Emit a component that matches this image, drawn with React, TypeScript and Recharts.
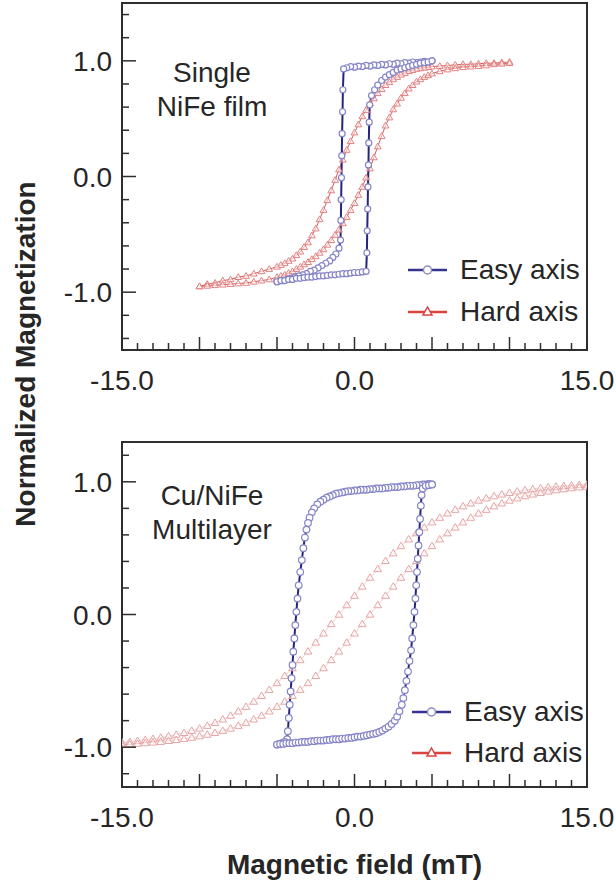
import React from "react";
import { ComposedChart, Line, XAxis, YAxis, ReferenceArea, Legend } from "recharts";

type Pair = [number, number];

// axis ticks
const FIELD_TICKS = [-15, -14, -13, -12, -11, -10, -9, -8, -7, -6, -5, -4, -3, -2, -1, 0, 1, 2, 3, 4, 5, 6, 7, 8, 9, 10, 11, 12, 13, 14, 15];
const FIELD_LABELS = [-15, 0, 15];
const TOP_M_TICKS = [-1.4, -1.2, -1, -0.8, -0.6, -0.4, -0.2, 0, 0.2, 0.4, 0.6, 0.8, 1, 1.2, 1.4];
const BOTTOM_M_TICKS = [-1.2, -1, -0.8, -0.6, -0.4, -0.2, 0, 0.2, 0.4, 0.6, 0.8, 1, 1.2];
const M_LABELS = [-1, 0, 1];

// single NiFe film, easy axis: field (mT), normalized M
const TOP_EASY_DESC: Pair[] = [
  [5, 1.0], [4.75, 0.99], [4.5, 0.995], [4.25, 0.99], [4, 0.985], [3.75, 0.99], [3.5, 0.98], [3.25, 0.985],
  [3, 0.975], [2.75, 0.98], [2.5, 0.97], [2.25, 0.975], [2, 0.965], [1.75, 0.97], [1.5, 0.96], [1.25, 0.965],
  [1, 0.955], [0.75, 0.96], [0.5, 0.95], [0.25, 0.955], [0, 0.945], [-0.25, 0.95], [-0.5, 0.94], [-0.7, 0.93],
  [-0.75, 0.75], [-0.77, 0.56], [-0.8, 0.37], [-0.82, 0.18], [-0.84, -0.01], [-0.86, -0.2], [-0.88, -0.38], [-0.9, -0.55],
  [-1.0, -0.62], [-1.2, -0.67], [-1.4, -0.7], [-1.6, -0.73], [-1.85, -0.75], [-2.1, -0.77], [-2.35, -0.79], [-2.6, -0.81],
  [-2.85, -0.82], [-3.1, -0.84], [-3.35, -0.85], [-3.6, -0.86], [-3.85, -0.87], [-4.1, -0.88], [-4.35, -0.89], [-4.6, -0.9],
  [-4.8, -0.9], [-5, -0.91],
];
const TOP_EASY_ASC: Pair[] = [
  [-5, -0.91], [-4.75, -0.9], [-4.5, -0.9], [-4.25, -0.89], [-4, -0.89], [-3.75, -0.88], [-3.5, -0.88], [-3.25, -0.875],
  [-3, -0.87], [-2.75, -0.87], [-2.5, -0.865], [-2.25, -0.86], [-2, -0.86], [-1.75, -0.855], [-1.5, -0.85], [-1.25, -0.85],
  [-1, -0.845], [-0.75, -0.84], [-0.5, -0.84], [-0.25, -0.835], [0, -0.83], [0.25, -0.83], [0.5, -0.825], [0.75, -0.82],
  [0.8, -0.66], [0.82, -0.47], [0.85, -0.28], [0.87, -0.09], [0.9, 0.1], [0.92, 0.29], [0.95, 0.47], [0.98, 0.62],
  [1.1, 0.7], [1.3, 0.75], [1.5, 0.79], [1.75, 0.83], [2, 0.86], [2.25, 0.88], [2.5, 0.9], [2.75, 0.92],
  [3, 0.93], [3.25, 0.94], [3.5, 0.95], [3.75, 0.96], [4, 0.97], [4.25, 0.98], [4.5, 0.985], [4.75, 0.99], [5, 1.0],
];

// single NiFe film, hard axis
const TOP_HARD_DESC: Pair[] = [
  [10, 0.99], [9.5, 0.985], [9, 0.98], [8.5, 0.98], [8, 0.975], [7.5, 0.97], [7, 0.97], [6.5, 0.965], [6, 0.96],
  [5.5, 0.955], [5, 0.95], [4.75, 0.945], [4.5, 0.94], [4.25, 0.935], [4, 0.93], [3.75, 0.92], [3.5, 0.91],
  [3.25, 0.895], [3, 0.88], [2.75, 0.86], [2.5, 0.84], [2.25, 0.815], [2, 0.79], [1.75, 0.755], [1.5, 0.72],
  [1.25, 0.675], [1, 0.63], [0.75, 0.575], [0.5, 0.52], [0.25, 0.45], [0, 0.38], [-0.25, 0.305], [-0.5, 0.23],
  [-0.75, 0.145], [-1, 0.06], [-1.25, -0.03], [-1.5, -0.12], [-1.75, -0.205], [-2, -0.29], [-2.25, -0.37],
  [-2.5, -0.45], [-2.75, -0.51], [-3, -0.57], [-3.25, -0.61], [-3.5, -0.65], [-3.75, -0.68], [-4, -0.71],
  [-4.25, -0.73], [-4.5, -0.75], [-4.75, -0.765], [-5, -0.78], [-5.5, -0.8], [-6, -0.82], [-6.5, -0.84],
  [-7, -0.86], [-7.5, -0.87], [-8, -0.89], [-8.5, -0.9], [-9, -0.92], [-9.5, -0.93], [-10, -0.95],
];
const TOP_HARD_ASC: Pair[] = [
  [-10, -0.95], [-9.5, -0.945], [-9, -0.94], [-8.5, -0.935], [-8, -0.93], [-7.5, -0.925], [-7, -0.92], [-6.5, -0.91],
  [-6, -0.9], [-5.5, -0.89], [-5, -0.87], [-4.75, -0.86], [-4.5, -0.85], [-4.25, -0.835], [-4, -0.82], [-3.75, -0.8],
  [-3.5, -0.78], [-3.25, -0.76], [-3, -0.74], [-2.75, -0.715], [-2.5, -0.69], [-2.25, -0.66], [-2, -0.63],
  [-1.75, -0.59], [-1.5, -0.55], [-1.25, -0.505], [-1, -0.46], [-0.75, -0.405], [-0.5, -0.35], [-0.25, -0.29],
  [0, -0.23], [0.25, -0.16], [0.5, -0.09], [0.75, -0.01], [1, 0.07], [1.25, 0.165], [1.5, 0.26], [1.75, 0.35],
  [2, 0.44], [2.25, 0.51], [2.5, 0.58], [2.75, 0.63], [3, 0.68], [3.25, 0.72], [3.5, 0.76], [3.75, 0.79],
  [4, 0.82], [4.25, 0.84], [4.5, 0.86], [4.75, 0.875], [5, 0.89], [5.5, 0.91], [6, 0.925], [6.5, 0.935],
  [7, 0.945], [7.5, 0.95], [8, 0.955], [8.5, 0.96], [9, 0.97], [9.5, 0.975], [10, 0.98],
];

// Cu/NiFe multilayer, easy axis
const BOTTOM_EASY_DESC: Pair[] = [
  [5, 0.98], [4.8, 0.985], [4.6, 0.98], [4.4, 0.98], [4.2, 0.975], [4, 0.975], [3.8, 0.97], [3.6, 0.97], [3.4, 0.97],
  [3.2, 0.965], [3, 0.965], [2.8, 0.96], [2.6, 0.96], [2.4, 0.96], [2.2, 0.955], [2, 0.955], [1.8, 0.95], [1.6, 0.95],
  [1.4, 0.95], [1.2, 0.945], [1, 0.945], [0.8, 0.94], [0.6, 0.94], [0.4, 0.94], [0.2, 0.935], [0, 0.935],
  [-0.2, 0.93], [-0.4, 0.93], [-0.6, 0.925], [-0.8, 0.92], [-1, 0.915], [-1.2, 0.91], [-1.4, 0.9], [-1.6, 0.89],
  [-1.8, 0.88], [-2, 0.865], [-2.2, 0.85], [-2.4, 0.83], [-2.6, 0.8], [-2.75, 0.77], [-2.9, 0.73], [-3.0, 0.69],
  [-3.1, 0.64], [-3.2, 0.58], [-3.3, 0.5], [-3.4, 0.41], [-3.5, 0.32], [-3.6, 0.22], [-3.68, 0.12], [-3.75, 0.02],
  [-3.82, -0.08], [-3.88, -0.18], [-3.95, -0.28], [-4.0, -0.38], [-4.06, -0.48], [-4.12, -0.58], [-4.18, -0.68],
  [-4.24, -0.78], [-4.3, -0.88], [-4.35, -0.94], [-4.5, -0.96], [-4.7, -0.97], [-4.85, -0.975], [-5, -0.98],
];
const BOTTOM_EASY_ASC: Pair[] = [
  [-5, -0.98], [-4.8, -0.975], [-4.6, -0.975], [-4.4, -0.97], [-4.2, -0.97], [-4, -0.97], [-3.8, -0.965], [-3.6, -0.965],
  [-3.4, -0.96], [-3.2, -0.96], [-3, -0.96], [-2.8, -0.955], [-2.6, -0.955], [-2.4, -0.95], [-2.2, -0.95], [-2, -0.95],
  [-1.8, -0.945], [-1.6, -0.945], [-1.4, -0.94], [-1.2, -0.94], [-1, -0.94], [-0.8, -0.935], [-0.6, -0.935], [-0.4, -0.93],
  [-0.2, -0.93], [0, -0.925], [0.2, -0.92], [0.4, -0.92], [0.6, -0.915], [0.8, -0.91], [1, -0.905], [1.2, -0.9],
  [1.4, -0.895], [1.6, -0.885], [1.8, -0.875], [2, -0.86], [2.2, -0.845], [2.4, -0.825], [2.6, -0.8], [2.75, -0.77],
  [2.9, -0.73], [3.05, -0.68], [3.15, -0.63], [3.25, -0.57], [3.35, -0.5], [3.45, -0.43], [3.55, -0.35], [3.65, -0.27],
  [3.72, -0.18], [3.8, -0.08], [3.87, 0.02], [3.93, 0.12], [3.98, 0.22], [4.03, 0.32], [4.08, 0.42], [4.13, 0.52],
  [4.18, 0.62], [4.23, 0.72], [4.28, 0.82], [4.33, 0.9], [4.4, 0.95], [4.6, 0.97], [4.8, 0.975], [5, 0.98],
];

// Cu/NiFe multilayer, hard axis
const BOTTOM_HARD_DESC: Pair[] = [
  [15, 0.98], [14.5, 0.977], [14, 0.973], [13.5, 0.969], [13, 0.964], [12.5, 0.959], [12, 0.952], [11.5, 0.945],
  [11, 0.937], [10.5, 0.928], [10, 0.917], [9.5, 0.905], [9, 0.892], [8.5, 0.876], [8, 0.859], [7.5, 0.838],
  [7, 0.816], [6.5, 0.79], [6, 0.762], [5.5, 0.73], [5, 0.695], [4.5, 0.656], [4, 0.613], [3.5, 0.567],
  [3, 0.516], [2.5, 0.462], [2, 0.404], [1.5, 0.343], [1, 0.278], [0.5, 0.211], [0, 0.142], [-0.5, 0.071],
  [-1, 0], [-1.5, -0.071], [-2, -0.142], [-2.5, -0.211], [-3, -0.278], [-3.5, -0.343], [-4, -0.404], [-4.5, -0.462],
  [-5, -0.516], [-5.5, -0.567], [-6, -0.613], [-6.5, -0.656], [-7, -0.695], [-7.5, -0.73], [-8, -0.762], [-8.5, -0.79],
  [-9, -0.816], [-9.5, -0.838], [-10, -0.859], [-10.5, -0.876], [-11, -0.892], [-11.5, -0.905], [-12, -0.917],
  [-12.5, -0.928], [-13, -0.937], [-13.5, -0.945], [-14, -0.952], [-14.5, -0.959], [-15, -0.964],
];
const BOTTOM_HARD_ASC: Pair[] = [
  [-15, -0.98], [-14.5, -0.977], [-14, -0.973], [-13.5, -0.969], [-13, -0.964], [-12.5, -0.959], [-12, -0.952],
  [-11.5, -0.945], [-11, -0.937], [-10.5, -0.928], [-10, -0.917], [-9.5, -0.905], [-9, -0.892], [-8.5, -0.876],
  [-8, -0.859], [-7.5, -0.838], [-7, -0.816], [-6.5, -0.79], [-6, -0.762], [-5.5, -0.73], [-5, -0.695], [-4.5, -0.656],
  [-4, -0.613], [-3.5, -0.567], [-3, -0.516], [-2.5, -0.462], [-2, -0.404], [-1.5, -0.343], [-1, -0.278], [-0.5, -0.211],
  [0, -0.142], [0.5, -0.071], [1, 0], [1.5, 0.071], [2, 0.142], [2.5, 0.211], [3, 0.278], [3.5, 0.343], [4, 0.404],
  [4.5, 0.462], [5, 0.516], [5.5, 0.567], [6, 0.613], [6.5, 0.656], [7, 0.695], [7.5, 0.73], [8, 0.762], [8.5, 0.79],
  [9, 0.816], [9.5, 0.838], [10, 0.859], [10.5, 0.876], [11, 0.892], [11.5, 0.905], [12, 0.917], [12.5, 0.928],
  [13, 0.937], [13.5, 0.945], [14, 0.952], [14.5, 0.959], [15, 0.964],
];

const FONT = '"Liberation Sans", Arial, Helvetica, sans-serif';
const TEXT = "#262626";
const AXIS = "#2e2e2e";
const EASY_LINE = "#25257f";
const EASY_MARK = "#8585c8";

const toPoints = (pairs: Pair[]) => pairs.map(([h, m]) => ({ h, m }));

const circleDot = (stroke: string, r: number) => (props: any) => {
  const { cx, cy, index } = props;
  if (cx == null || cy == null) return <g key={`c-${index}`} />;
  return <circle key={`c-${index}`} cx={cx} cy={cy} r={r} fill="#fff" stroke={stroke} strokeWidth={1.2} />;
};

const triangleDot = (stroke: string, s: number) => (props: any) => {
  const { cx, cy, index } = props;
  if (cx == null || cy == null) return <g key={`t-${index}`} />;
  return (
    <path
      key={`t-${index}`}
      d={`M${cx},${cy - s}L${cx + s},${cy + s * 0.7}L${cx - s},${cy + s * 0.7}Z`}
      fill="#fff"
      fillOpacity={0.5}
      stroke={stroke}
      strokeWidth={1}
    />
  );
};

const fieldTick = (props: any) => {
  const { x, y, payload } = props;
  const v = payload.value;
  const major = v % 5 === 0;
  return (
    <g key={`xt-${v}`}>
      <line x1={x} x2={x} y1={y} y2={y - (major ? 13 : 7)} stroke={AXIS} strokeWidth={1.5} />
      {FIELD_LABELS.includes(v) && (
        <text x={x} y={y + 40} textAnchor="middle" fontFamily={FONT} fontSize={28} fill={TEXT}>
          {v.toFixed(1)}
        </text>
      )}
    </g>
  );
};

const magTick = (props: any) => {
  const { x, y, payload } = props;
  const v = payload.value;
  const major = M_LABELS.includes(v);
  return (
    <g key={`yt-${v}`}>
      <line x1={x} x2={x + (major ? 14 : 7)} y1={y} y2={y} stroke={AXIS} strokeWidth={1.5} />
      {major && (
        <text x={x - 10} y={y} dy="0.36em" textAnchor="end" fontFamily={FONT} fontSize={28} fill={TEXT}>
          {v.toFixed(1)}
        </text>
      )}
    </g>
  );
};

const LEGEND_ITEMS = [
  { name: "Easy axis", color: "#35358f", marker: "circle" },
  { name: "Hard axis", color: "#d9443f", marker: "triangle" },
];

const LegendBox = ({ rowHeight }: { rowHeight: number }) => (
  <div style={{ fontFamily: FONT, fontSize: 28, color: TEXT }}>
    {LEGEND_ITEMS.map((item) => (
      <div key={item.name} style={{ display: "flex", alignItems: "center", height: rowHeight }}>
        <svg width={52} height={20}>
          <line x1={2} x2={41} y1={10} y2={10} stroke={item.color} strokeWidth={2.5} />
          {item.marker === "circle" ? (
            <circle cx={21.5} cy={10} r={4} fill="#fff" stroke="#8c8cbc" strokeWidth={1.5} />
          ) : (
            <path d="M21.5,5L26,13L17,13Z" fill="#fff" stroke={item.color} strokeWidth={1.5} />
          )}
        </svg>
        <span style={{ marginLeft: 2, whiteSpace: "nowrap" }}>{item.name}</span>
      </div>
    ))}
  </div>
);

interface PanelProps {
  height: number;
  marginTop: number;
  xAxisHeight: number;
  yMax: number;
  mTicks: number[];
  easyDesc: Pair[];
  easyAsc: Pair[];
  hardDesc: Pair[];
  hardAsc: Pair[];
  hardLine: string;
  hardMark: string;
  hardWidth: number;
  triSize: number;
  dotR: number;
  legendLeft: number;
  legendTop: number;
  legendRow: number;
  xTitle?: string;
}

function Panel(p: PanelProps) {
  const series = [
    { key: "hd", data: p.hardDesc, hard: true },
    { key: "ha", data: p.hardAsc, hard: true },
    { key: "ed", data: p.easyDesc, hard: false },
    { key: "ea", data: p.easyAsc, hard: false },
  ];
  return (
    <ComposedChart width={616} height={p.height} margin={{ top: p.marginTop, right: 29, bottom: 0, left: 0 }}>
      <XAxis
        type="number"
        dataKey="h"
        domain={[-15, 15]}
        allowDataOverflow
        ticks={FIELD_TICKS}
        interval={0}
        tickSize={0}
        tickMargin={0}
        axisLine={false}
        tickLine={false}
        tick={fieldTick}
        height={p.xAxisHeight}
        label={
          p.xTitle
            ? {
                value: p.xTitle,
                position: "insideBottom",
                offset: 8,
                style: { fontFamily: FONT, fontSize: 28, fontWeight: 700, fill: TEXT },
              }
            : undefined
        }
      />
      <YAxis
        type="number"
        domain={[-p.yMax, p.yMax]}
        allowDataOverflow
        ticks={p.mTicks}
        interval={0}
        tickSize={0}
        tickMargin={0}
        axisLine={false}
        tickLine={false}
        tick={magTick}
        width={122}
      />
      <ReferenceArea x1={-15} x2={15} y1={-p.yMax} y2={p.yMax} fill="none" stroke={AXIS} strokeWidth={2} />
      {series.map((s) => (
        <Line
          key={s.key}
          data={toPoints(s.data)}
          dataKey="m"
          type="linear"
          stroke={s.hard ? p.hardLine : EASY_LINE}
          strokeWidth={s.hard ? p.hardWidth : 2}
          dot={s.hard ? triangleDot(p.hardMark, p.triSize) : circleDot(EASY_MARK, p.dotR)}
          activeDot={false}
          isAnimationActive={false}
        />
      ))}
      <Legend
        layout="vertical"
        align="center"
        verticalAlign="middle"
        wrapperStyle={{ left: p.legendLeft, top: p.legendTop, width: 210 }}
        content={() => <LegendBox rowHeight={p.legendRow} />}
      />
    </ComposedChart>
  );
}

const noteStyle: React.CSSProperties = {
  position: "absolute",
  left: 112,
  width: 200,
  textAlign: "center",
  fontFamily: FONT,
  fontSize: 28,
  lineHeight: "34px",
  color: TEXT,
};

export default function App() {
  return (
    <div style={{ position: "absolute", left: 0, top: 0, width: 616, height: 882, background: "#fff" }}>
      <div style={{ position: "absolute", left: 0, top: 0 }}>
        <Panel
          height={400}
          marginTop={3}
          xAxisHeight={50}
          yMax={1.5}
          mTicks={TOP_M_TICKS}
          easyDesc={TOP_EASY_DESC}
          easyAsc={TOP_EASY_ASC}
          hardDesc={TOP_HARD_DESC}
          hardAsc={TOP_HARD_ASC}
          hardLine="#d65a5a"
          hardMark="#e48080"
          hardWidth={1}
          triSize={3.4}
          dotR={3}
          legendLeft={406}
          legendTop={249}
          legendRow={42}
        />
      </div>
      <div style={{ position: "absolute", left: 0, top: 420 }}>
        <Panel
          height={462}
          marginTop={22}
          xAxisHeight={95}
          yMax={1.3}
          mTicks={BOTTOM_M_TICKS}
          easyDesc={BOTTOM_EASY_DESC}
          easyAsc={BOTTOM_EASY_ASC}
          hardDesc={BOTTOM_HARD_DESC}
          hardAsc={BOTTOM_HARD_ASC}
          hardLine="#efc4c4"
          hardMark="#e6a4a4"
          hardWidth={0.8}
          triSize={3.8}
          dotR={3.3}
          legendLeft={410}
          legendTop={271}
          legendRow={41}
          xTitle="Magnetic field (mT)"
        />
      </div>
      <div style={{ ...noteStyle, top: 56 }}>
        Single
        <br />
        NiFe film
      </div>
      <div style={{ ...noteStyle, top: 479 }}>
        Cu/NiFe
        <br />
        Multilayer
      </div>
      <svg style={{ position: "absolute", left: 0, top: 0 }} width={60} height={882}>
        <text
          x={35}
          y={354}
          transform="rotate(-90 35 354)"
          textAnchor="middle"
          fontFamily={FONT}
          fontSize={28}
          fontWeight={700}
          fill={TEXT}
        >
          Normalized Magnetization
        </text>
      </svg>
    </div>
  );
}
